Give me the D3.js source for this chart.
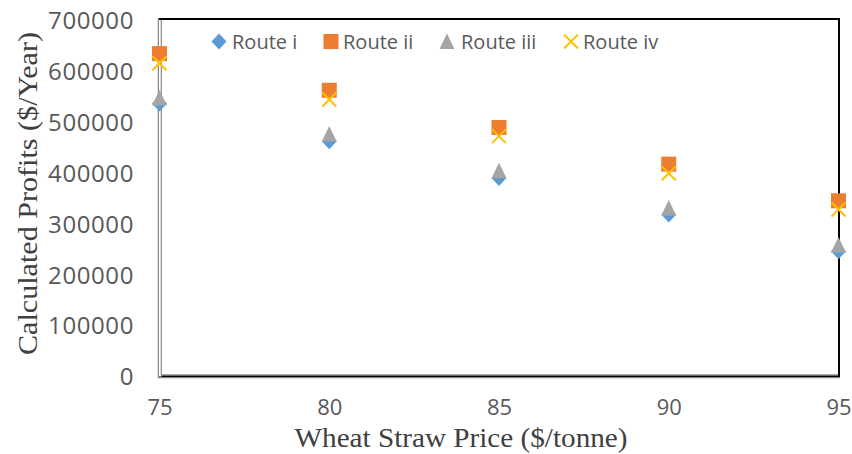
<!DOCTYPE html>
<html>
<head>
<meta charset="utf-8">
<script src="https://cdn.jsdelivr.net/npm/d3@7"></script>
<style>
  html, body { margin: 0; padding: 0; background: #fff; }
  svg { display: block; }
</style>
</head>
<body>
<svg id="chart" width="852" height="454"></svg>
<script>
const prices = [75, 80, 85, 90, 95];
const routeI   = [536000, 462000, 390000, 318000, 246000];
const routeII  = [634000, 562000, 489000, 417000, 345000];
const routeIII = [547000, 476000, 404000, 331000, 258000];
const routeIV  = [615000, 544000, 472000, 399000, 328000];
const seriesNames = ["Route i", "Route ii", "Route iii", "Route iv"];
const yTicks = [0, 100000, 200000, 300000, 400000, 500000, 600000, 700000];
const xTicks = [75, 80, 85, 90, 95];

const colors = ["#5B9BD5", "#ED7D31", "#A5A5A5", "#FFC000"];
const shapes = ["diamond", "square", "triangle", "cross"];
const seriesValues = [routeI, routeII, routeIII, routeIV];

const svg = d3.select("#chart");
const pLeft = 159.5, pRight = 838.5, pTop = 20, pBottom = 376.5;

const x = d3.scaleLinear().domain([75, 95]).range([pLeft, pRight]);
const y = d3.scaleLinear().domain([0, 700000]).range([pBottom, pTop]);

// frame
svg.append("rect")
  .attr("x", pLeft).attr("y", pTop - 1)
  .attr("width", pRight - pLeft + 0.5).attr("height", pBottom - pTop + 1)
  .attr("fill", "none").attr("stroke", "#000").attr("stroke-width", 2);

// axes (double gray look on left and bottom)
const axisG = svg.append("g");
axisG.append("rect").attr("x", pLeft - 1).attr("y", pTop).attr("width", 3).attr("height", pBottom - pTop).attr("fill", "#fff");
axisG.append("line").attr("x1", pLeft - 1.2).attr("x2", pLeft - 1.2).attr("y1", pTop - 2).attr("y2", pBottom + 1.8)
  .attr("stroke", "#8a8a8a").attr("stroke-width", 1.2);
axisG.append("line").attr("x1", pLeft + 1.8).attr("x2", pLeft + 1.8).attr("y1", pTop).attr("y2", pBottom - 1.5)
  .attr("stroke", "#8a8a8a").attr("stroke-width", 1.2);
axisG.append("line").attr("x1", pLeft - 1.2).attr("x2", pRight + 1).attr("y1", pBottom + 1.2).attr("y2", pBottom + 1.2)
  .attr("stroke", "#8a8a8a").attr("stroke-width", 1.2);
axisG.append("line").attr("x1", pLeft + 1.8).attr("x2", pRight).attr("y1", pBottom - 1.5).attr("y2", pBottom - 1.5)
  .attr("stroke", "#555").attr("stroke-width", 1.2);

// y-axis tick labels
const yAxis = d3.axisLeft(y).tickValues(yTicks).tickSize(0).tickPadding(0).tickFormat(d3.format("d"));
const yg = svg.append("g").attr("transform", "translate(134,0)").call(yAxis);
yg.select(".domain").remove();
yg.selectAll("text")
  .attr("font-family", "'Open Sans', sans-serif").attr("font-size", 24)
  .attr("fill", "#595959").attr("letter-spacing", 0.6).attr("dy", "0.35em");

// x-axis tick labels
const xAxis = d3.axisBottom(x).tickValues(xTicks).tickSize(0).tickPadding(0).tickFormat(d3.format("d"));
const xg = svg.append("g").attr("transform", "translate(0,407.5)").call(xAxis);
xg.select(".domain").remove();
xg.selectAll("text")
  .attr("font-family", "'Open Sans', sans-serif").attr("font-size", 22)
  .attr("fill", "#595959").attr("dy", "0.35em");

// titles
svg.append("text")
  .attr("x", 461).attr("y", 447)
  .attr("text-anchor", "middle")
  .attr("font-family", "'Liberation Serif', 'Times New Roman', serif")
  .attr("font-size", 27).attr("fill", "#404040")
  .attr("textLength", 333).attr("lengthAdjust", "spacingAndGlyphs")
  .text("Wheat Straw Price ($/tonne)");

svg.append("text")
  .attr("transform", "translate(37,193.5) rotate(-90)")
  .attr("text-anchor", "middle")
  .attr("font-family", "'Liberation Serif', 'Times New Roman', serif")
  .attr("font-size", 28).attr("fill", "#404040")
  .attr("textLength", 323).attr("lengthAdjust", "spacingAndGlyphs")
  .text("Calculated Profits ($/Year)");

// marker drawing
function drawMarker(g, shape, cx, cy, color) {
  if (shape === "diamond") {
    g.append("path").attr("d", `M${cx},${cy-8} L${cx+7.5},${cy} L${cx},${cy+8} L${cx-7.5},${cy} Z`).attr("fill", color);
  } else if (shape === "square") {
    g.append("rect").attr("x", cx - 7.5).attr("y", cy - 7.5).attr("width", 15).attr("height", 15).attr("fill", color);
  } else if (shape === "triangle") {
    g.append("path").attr("d", `M${cx},${cy-8} L${cx+7.5},${cy+7.5} L${cx-7.5},${cy+7.5} Z`).attr("fill", color);
  } else {
    g.append("path").attr("d", `M${cx-7},${cy-7} L${cx+7},${cy+7} M${cx+7},${cy-7} L${cx-7},${cy+7}`)
      .attr("stroke", color).attr("stroke-width", 2).attr("fill", "none");
  }
}

const pts = svg.append("g");
seriesValues.forEach((vals, si) => {
  const g = pts.append("g");
  vals.forEach((v, i) => drawMarker(g, shapes[si], x(prices[i]), y(v), colors[si]));
});

// legend
const legendMarkerX = [219, 331, 447, 571];
const legendTextX = [232, 343, 461, 583];
const legendY = 41.5;
const lg = svg.append("g");
seriesNames.forEach((name, si) => {
  drawMarker(lg, shapes[si], legendMarkerX[si], legendY, colors[si]);
  lg.append("text")
    .attr("x", legendTextX[si]).attr("y", legendY)
    .attr("dy", "0.35em")
    .attr("font-family", "'Open Sans', sans-serif").attr("font-size", 20)
    .attr("fill", "#595959")
    .text(name);
});
</script>
</body>
</html>
